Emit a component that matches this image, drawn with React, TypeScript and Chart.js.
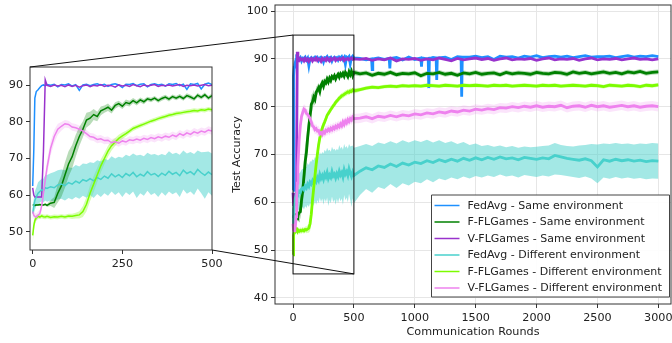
import { useEffect, useRef } from 'react';
import { Chart, registerables } from 'chart.js';
Chart.register(...registerables);

const ROUNDS = [0, 3, 6, 10, 15, 20, 25, 30, 35, 40,
  50, 60, 70, 80, 90, 100, 110, 120, 130, 140,
  150, 160, 170, 180, 190, 200, 210, 220, 230, 240,
  250, 260, 270, 280, 290, 300, 310, 320, 330, 340,
  350, 360, 370, 380, 390, 400, 410, 420, 430, 440,
  450, 460, 470, 480, 490, 500,
  550, 600, 650, 700, 750, 800, 850, 900, 950, 1000,
  1050, 1100, 1150, 1200, 1250, 1300, 1350, 1400, 1450, 1500,
  1550, 1600, 1650, 1700, 1750, 1800, 1850, 1900, 1950, 2000,
  2050, 2100, 2150, 2200, 2250, 2300, 2350, 2400, 2450, 2500,
  2550, 2600, 2650, 2700, 2750, 2800, 2850, 2900, 2950, 3000];

// FedAvg (same environment) has its own rounds so that its thin drops are kept narrow
const FEDAVG_SAME_ROUNDS = [0, 3, 6, 10, 15, 20, 25, 30, 35, 40,
  50, 60, 70, 80, 90, 100, 110, 120, 130, 140,
  150, 160, 170, 180, 190, 200, 210, 220, 230, 240,
  250, 260, 270, 280, 290, 300, 310, 320, 330, 340,
  350, 360, 370, 380, 390, 400, 410, 420, 430, 440,
  450, 460, 470, 480, 490, 500,
  550, 600, 645, 650, 655, 700, 750, 790, 795, 800,
  850, 900, 950, 1000, 1050, 1055, 1060, 1100, 1110, 1115,
  1120, 1150, 1175, 1180, 1185, 1250, 1300, 1350, 1380, 1385,
  1390, 1450, 1500,
  1550, 1600, 1650, 1700, 1750, 1800, 1850, 1900, 1950, 2000,
  2050, 2100, 2150, 2200, 2250, 2300, 2350, 2400, 2450, 2500,
  2550, 2600, 2650, 2700, 2750, 2800, 2850, 2900, 2950, 3000];

const FEDAVG_SAME = [62.5, 72.0, 86.5, 88.3, 88.8, 89.4, 89.9, 90.1, 89.9, 90.2,
  90.0, 90.3, 89.6, 90.2, 90.1, 90.4, 89.8, 90.2, 88.6, 90.1,
  90.3, 89.9, 90.2, 90.4, 90.0, 90.3, 89.7, 90.2, 90.4, 90.1,
  89.4, 90.3, 90.2, 90.5, 89.9, 90.3, 90.4, 89.6, 90.2, 90.4,
  90.1, 90.3, 89.8, 90.4, 90.2, 90.5, 89.9, 90.3, 88.9, 90.4,
  90.2, 90.5, 89.0, 90.3, 90.6, 90.2,
  90.1, 89.8, 90.0, 87.8, 90.0, 90.2, 89.9, 90.1, 88.0, 90.1,
  90.3, 89.8, 90.4, 89.9, 90.2, 88.4, 90.2, 90.0, 90.1, 83.9,
  90.1, 90.3, 90.2, 85.6, 90.2, 90.4, 89.9, 90.5, 90.4, 82.1,
  90.4, 90.4, 90.6,
  90.3, 90.5, 89.9, 90.6, 90.4, 90.5, 90.2, 90.6, 90.4, 90.7,
  90.3, 90.5, 90.6, 90.4, 90.6, 90.3, 90.5, 90.7, 90.4, 90.5,
  90.5, 90.6, 90.3, 90.5, 90.7, 90.4, 90.6, 90.5, 90.7, 90.5];

const FFLGAMES_SAME = [57.3, 57.3, 57.2, 57.3, 57.3, 57.4, 57.3, 57.3, 57.5, 57.2,
  57.8, 58.0, 60.5, 62.5, 65.5, 68.5, 70.5, 73.5, 76.0, 78.0,
  80.5, 81.0, 82.0, 81.5, 83.0, 83.5, 84.0, 83.2, 84.5, 85.0,
  84.3, 85.3, 85.0, 85.8, 85.2, 86.0, 85.5, 86.3, 86.0, 86.5,
  85.8, 86.4, 86.8, 86.2, 86.9, 86.5, 87.0, 86.4, 87.2, 86.8,
  86.3, 87.3, 86.7, 87.4, 86.5, 87.2,
  86.9, 87.1, 86.6, 87.0, 86.8, 87.2, 86.7, 87.0, 86.9, 87.1,
  86.5, 87.0, 86.9, 87.2, 86.8, 87.0, 86.6, 87.1, 86.9, 87.2,
  86.8, 87.0, 87.1, 86.7, 87.2, 86.9, 87.1, 87.0, 86.8, 87.2,
  87.0, 86.9, 87.2, 87.1, 86.8, 87.3, 87.0, 87.2, 86.9, 87.1,
  87.3, 87.0, 87.2, 86.9, 87.3, 87.1, 87.4, 87.0, 87.2, 87.3];

const VFLGAMES_SAME = [62.0, 60.0, 59.5, 59.5, 59.5, 59.5, 59.5, 72.0, 91.5, 90.0,
  89.7, 90.1, 89.8, 90.0, 89.6, 90.1, 89.7, 90.0, 89.5, 89.9,
  90.1, 89.6, 90.0, 89.8, 90.2, 89.7, 90.0, 89.9, 89.5, 90.1,
  89.8, 90.0, 89.7, 90.2, 89.9, 89.6, 90.1, 89.8, 90.0, 90.2,
  89.7, 90.0, 89.9, 90.1, 89.8, 90.0, 90.2, 89.7, 90.0, 89.9,
  90.1, 89.8, 90.0, 90.2, 89.9, 90.0,
  89.9, 90.1, 89.7, 90.0, 89.8, 90.2, 89.6, 90.0, 89.9, 90.1,
  89.7, 90.0, 89.8, 90.2, 89.9, 89.6, 90.1, 89.8, 90.0, 90.2,
  89.9, 90.1, 89.7, 90.0, 90.2, 89.8, 90.0, 89.9, 90.1, 89.7,
  90.0, 90.2, 89.8, 90.0, 89.9, 90.1, 89.7, 90.0, 90.2, 89.8,
  90.0, 89.9, 90.1, 89.8, 90.0, 90.2, 89.9, 90.0, 89.8, 90.0];

const FEDAVG_DIFF = [55.0, 57.0, 58.5, 59.5, 60.5, 61.0, 61.5, 61.2, 62.0, 61.8,
  62.3, 62.0, 62.8, 63.0, 62.6, 63.4, 63.0, 63.8, 63.3, 64.2,
  63.8, 64.5, 63.9, 64.8, 64.3, 65.2, 64.6, 65.8, 65.0, 65.6,
  64.8, 65.9, 65.3, 66.2, 65.0, 65.7, 65.2, 66.4, 65.5, 65.9,
  65.1, 66.0, 65.4, 66.5, 65.7, 66.2, 65.3, 66.8, 65.9, 66.4,
  65.6, 67.0, 66.1, 65.4, 66.3, 65.6,
  66.5, 67.2, 66.8, 67.6, 67.3, 68.0, 67.5, 68.2, 67.8, 68.4,
  68.1, 68.7, 68.3, 68.9, 68.5, 69.0, 68.6, 69.2, 68.8, 69.3,
  68.9, 69.4, 69.0, 69.5, 69.1, 69.3, 68.9, 69.4, 69.2, 69.0,
  69.3, 69.1, 69.8, 69.5, 69.2, 69.0, 68.8, 69.1, 68.7, 67.4,
  68.9, 68.6, 69.0, 68.7, 68.9, 68.6, 68.8, 68.5, 68.7, 68.6];

const FEDAVG_DIFF_LOW = [53.5, 55.0, 56.0, 57.0, 57.5, 58.0, 58.3, 58.0, 58.5, 58.2,
  58.5, 58.2, 58.8, 59.0, 58.5, 59.2, 58.8, 59.5, 59.0, 59.8,
  59.3, 60.0, 59.2, 60.3, 59.5, 60.5, 59.8, 61.0, 60.0, 60.8,
  59.5, 60.8, 60.0, 61.0, 59.2, 60.5, 59.8, 61.2, 60.0, 60.6,
  59.5, 60.8, 59.8, 61.0, 60.2, 60.8, 59.5, 61.5, 60.4, 61.0,
  60.0, 61.8, 60.5, 59.0, 60.8, 59.8,
  61.5, 62.8, 62.0, 63.2, 62.8, 63.8, 63.0, 64.0, 63.5, 64.3,
  64.0, 64.8, 64.2, 65.0, 64.6, 65.2, 64.8, 65.4, 65.0, 65.5,
  65.2, 65.6, 65.3, 65.8, 65.4, 65.6, 65.2, 65.7, 65.5, 65.3,
  65.6, 65.4, 65.8, 65.7, 65.5, 65.3, 65.1, 65.4, 65.0, 64.0,
  65.2, 64.9, 65.3, 65.0, 65.2, 64.9, 65.1, 64.8, 65.0, 64.9];

const FEDAVG_DIFF_HIGH = [56.5, 59.0, 61.0, 62.0, 63.5, 64.0, 64.5, 64.5, 65.5, 65.5,
  66.0, 66.3, 66.8, 67.0, 66.8, 67.6, 67.4, 68.2, 67.8, 68.6,
  68.5, 69.0, 68.8, 69.5, 69.2, 70.0, 69.5, 70.6, 70.0, 70.5,
  70.2, 71.0, 70.6, 71.4, 70.8, 71.0, 70.6, 71.6, 71.0, 71.2,
  70.8, 71.2, 70.9, 72.0, 71.2, 71.6, 71.0, 72.2, 71.4, 71.8,
  71.2, 72.2, 71.7, 71.8, 71.9, 71.4,
  71.8, 72.2, 71.8, 72.5, 72.2, 72.8, 72.3, 73.0, 72.5, 73.0,
  72.6, 73.1, 72.5, 73.0, 72.4, 72.8, 72.2, 72.6, 72.0, 72.3,
  71.8, 72.0, 71.6, 71.9, 71.5, 71.8, 71.4, 71.7, 71.5, 71.6,
  71.8, 71.9, 72.4, 72.0, 71.8, 71.7, 71.9, 72.0, 72.2, 72.1,
  72.3, 72.2, 72.4, 72.2, 72.3, 72.1, 72.3, 72.2, 72.4, 72.3];

const FFLGAMES_DIFF = [49.0, 51.5, 53.0, 53.8, 54.2, 54.0, 54.3, 54.1, 54.0, 54.2,
  53.9, 54.1, 54.0, 54.2, 54.0, 54.3, 54.2, 54.4, 54.6, 55.5,
  57.5, 60.5, 63.0, 65.5, 68.0, 70.0, 72.0, 73.5, 74.5, 75.5,
  76.2, 76.8, 77.5, 78.2, 78.6, 79.0, 79.4, 79.8, 80.2, 80.5,
  80.9, 81.2, 81.5, 81.8, 82.0, 82.3, 82.4, 82.6, 82.8, 82.9,
  83.1, 83.0, 83.3, 83.2, 83.5, 83.3,
  83.6, 83.9, 84.1, 84.0, 84.2, 84.3, 84.2, 84.4, 84.3, 84.4,
  84.3, 84.5, 84.4, 84.3, 84.5, 84.4, 84.3, 84.5, 84.4, 84.5,
  84.4, 84.3, 84.5, 84.4, 84.5, 84.3, 84.4, 84.5, 84.4, 84.3,
  84.5, 84.4, 84.5, 84.3, 84.4, 84.5, 84.4, 84.3, 84.5, 84.4,
  84.2, 84.5, 84.4, 84.3, 84.5, 84.4, 84.2, 84.5, 84.4, 84.6];

const VFLGAMES_DIFF = [55.5, 54.5, 54.2, 54.0, 54.5, 55.0, 57.0, 60.5, 64.0, 67.5,
  72.8, 76.0, 78.0, 78.8, 79.5, 79.3, 78.6, 78.4, 78.0, 77.5,
  76.8, 76.0, 75.8, 75.2, 75.4, 74.9, 75.0, 74.3, 74.6, 74.2,
  74.8, 74.5, 75.1, 74.9, 75.3, 75.0, 75.5, 75.2, 75.7, 75.4,
  75.9, 75.6, 76.1, 75.8, 76.4, 76.0, 76.8, 76.3, 77.0, 76.6,
  77.3, 76.9, 77.5, 77.2, 77.8, 77.5,
  77.6, 77.9, 77.5, 78.0, 77.8, 78.2, 77.9, 78.3, 78.1, 78.5,
  78.3, 78.7, 78.5, 78.9, 78.7, 79.1, 78.9, 79.3, 79.1, 79.5,
  79.3, 79.6, 79.4, 79.8, 79.7, 80.0, 79.8, 80.1, 79.9, 80.2,
  79.9, 80.1, 80.0, 80.3, 79.8, 80.1, 80.2, 79.9, 80.3, 80.0,
  80.2, 79.9, 80.1, 80.3, 80.0, 80.2, 79.9, 80.1, 80.2, 80.0];

const FFLGAMES_SAME_SPREAD = [0.3, 0.3, 0.3, 0.3, 0.3, 0.3, 0.3, 0.3, 0.3, 0.4,
  0.8, 1.5, 2.5, 3.0, 3.5, 3.5, 3.2, 3.0, 2.6, 2.2,
  2.0, 1.8, 1.5, 1.3, 1.2, 1.0, 1.0, 0.9, 0.9, 0.8,
  0.8, 0.8, 0.8, 0.7, 0.7, 0.7, 0.7, 0.6, 0.6, 0.6,
  0.6, 0.6, 0.6, 0.6, 0.6, 0.6, 0.6, 0.6, 0.6, 0.6,
  0.6, 0.6, 0.6, 0.6, 0.6, 0.6,
  0.5, 0.5, 0.5, 0.5, 0.5, 0.5, 0.5, 0.5, 0.5, 0.5,
  0.5, 0.5, 0.5, 0.5, 0.5, 0.5, 0.5, 0.5, 0.5, 0.5,
  0.5, 0.5, 0.5, 0.5, 0.5, 0.5, 0.5, 0.5, 0.5, 0.5,
  0.5, 0.5, 0.5, 0.5, 0.5, 0.5, 0.5, 0.5, 0.5, 0.5,
  0.5, 0.5, 0.5, 0.5, 0.5, 0.5, 0.5, 0.5, 0.5, 0.5];

const FFLGAMES_DIFF_SPREAD = [2.5, 1.5, 1.0, 0.8, 0.6, 0.6, 0.6, 0.6, 0.6, 0.6,
  0.6, 0.6, 0.6, 0.6, 0.6, 0.6, 0.7, 0.8, 1.0, 1.5,
  2.0, 2.2, 2.2, 2.0, 1.8, 1.6, 1.5, 1.3, 1.1, 1.0,
  0.9, 0.8, 0.7, 0.7, 0.6, 0.6, 0.6, 0.6, 0.6, 0.6,
  0.6, 0.6, 0.6, 0.6, 0.6, 0.6, 0.6, 0.6, 0.6, 0.6,
  0.6, 0.6, 0.6, 0.6, 0.6, 0.6,
  0.4, 0.4, 0.4, 0.4, 0.4, 0.4, 0.4, 0.4, 0.4, 0.4,
  0.4, 0.4, 0.4, 0.4, 0.4, 0.4, 0.4, 0.4, 0.4, 0.4,
  0.4, 0.4, 0.4, 0.4, 0.4, 0.4, 0.4, 0.4, 0.4, 0.4,
  0.4, 0.4, 0.4, 0.4, 0.4, 0.4, 0.4, 0.4, 0.4, 0.4,
  0.4, 0.4, 0.4, 0.4, 0.4, 0.4, 0.4, 0.4, 0.4, 0.4];

const VFLGAMES_DIFF_SPREAD = [1.0, 1.0, 1.0, 1.0, 1.0, 1.0, 1.2, 1.5, 1.8, 2.0,
  2.0, 1.8, 1.5, 1.2, 1.0, 1.0, 1.0, 1.0, 1.0, 1.0,
  1.0, 1.0, 1.0, 1.0, 1.0, 1.0, 1.0, 1.0, 1.0, 1.0,
  1.0, 1.0, 1.0, 1.0, 1.0, 1.0, 1.0, 1.0, 1.0, 1.0,
  1.0, 1.0, 1.0, 1.0, 1.0, 1.0, 1.0, 1.0, 1.0, 1.0,
  1.0, 1.0, 1.0, 1.0, 1.0, 1.0,
  1.0, 1.0, 1.0, 1.0, 1.0, 1.0, 1.0, 1.0, 1.0, 1.0,
  1.0, 1.0, 1.0, 1.0, 1.0, 1.0, 1.0, 1.0, 1.0, 1.0,
  1.0, 1.0, 1.0, 1.0, 1.0, 1.0, 1.0, 1.0, 1.0, 1.0,
  1.0, 1.0, 1.0, 1.0, 1.0, 1.0, 1.0, 1.0, 1.0, 1.0,
  1.0, 1.0, 1.0, 1.0, 1.0, 1.0, 1.0, 1.0, 1.0, 1.0];

const SERIES_LABELS = [
  'FedAvg - Same environment',
  'F-FLGames - Same environment',
  'V-FLGames - Same environment',
  'FedAvg - Different environment',
  'F-FLGames - Different environment',
  'V-FLGames - Different environment',
];
const SERIES_VALUES = [FEDAVG_SAME, FFLGAMES_SAME, VFLGAMES_SAME, FEDAVG_DIFF, FFLGAMES_DIFF, VFLGAMES_DIFF];
const SERIES_ROUNDS = [FEDAVG_SAME_ROUNDS, ROUNDS, ROUNDS, ROUNDS, ROUNDS, ROUNDS];
const SERIES_COLORS = ['#1e90ff', '#008000', '#9932cc', '#48d1cc', '#7cfc00', '#ee82ee'];

const MAIN_X_TICKS = [0, 500, 1000, 1500, 2000, 2500, 3000];
const MAIN_Y_TICKS = [40, 50, 60, 70, 80, 90, 100];
const INSET_X_TICKS = [0, 250, 500];
const INSET_Y_TICKS = [50, 60, 70, 80, 90];

const FONT = 'DejaVu Sans';
const FONT_SIZE = 11.2;
const TEXT = '#222222';
const FRAME = '#333333';

function pts(xs: number[], ys: number[]) {
  return xs.map((x, i) => ({ x, y: ys[i] }));
}
function shifted(ys: number[], sp: number[], sign: number) {
  return ROUNDS.map((x, i) => ({ x, y: ys[i] + sign * sp[i] }));
}

function buildDatasets(lineWidth: number) {
  const ds: any[] = [];
  const band = (low: any[], high: any[], color: string) => {
    ds.push({ data: low, borderWidth: 0, pointRadius: 0, fill: false, order: 100, clip: 0 });
    ds.push({ data: high, borderWidth: 0, pointRadius: 0, fill: '-1', backgroundColor: color, order: 100, clip: 0 });
  };
  band(shifted(FFLGAMES_SAME, FFLGAMES_SAME_SPREAD, -1), shifted(FFLGAMES_SAME, FFLGAMES_SAME_SPREAD, 1), 'rgba(0,128,0,0.28)');
  band(pts(ROUNDS, FEDAVG_DIFF_LOW), pts(ROUNDS, FEDAVG_DIFF_HIGH), 'rgba(72,209,204,0.5)');
  band(shifted(FFLGAMES_DIFF, FFLGAMES_DIFF_SPREAD, -1), shifted(FFLGAMES_DIFF, FFLGAMES_DIFF_SPREAD, 1), 'rgba(124,252,0,0.3)');
  band(shifted(VFLGAMES_DIFF, VFLGAMES_DIFF_SPREAD, -1), shifted(VFLGAMES_DIFF, VFLGAMES_DIFF_SPREAD, 1), 'rgba(238,130,238,0.22)');
  SERIES_VALUES.forEach((vals, i) => {
    ds.push({
      label: SERIES_LABELS[i],
      data: pts(SERIES_ROUNDS[i], vals),
      borderColor: SERIES_COLORS[i],
      backgroundColor: SERIES_COLORS[i],
      borderWidth: lineWidth,
      pointRadius: 0,
      tension: 0,
      fill: false,
      order: 20 - i,
      clip: 0,
    });
  });
  return ds;
}

function axisCommon(ticksArr: number[], showGrid: boolean, size: number, isX: boolean, title?: string) {
  return {
    type: 'linear' as const,
    afterBuildTicks: (axis: any) => { axis.ticks = ticksArr.map((v) => ({ value: v })); },
    afterFit: (axis: any) => {
      if (isX) axis.height = size; else axis.width = size;
      axis.paddingTop = 0;
      axis.paddingBottom = 0;
      axis.paddingLeft = 0;
      axis.paddingRight = 0;
    },
    grid: {
      display: true,
      drawOnChartArea: showGrid,
      drawTicks: true,
      tickLength: 4,
      tickColor: FRAME,
      color: '#e6e6e6',
      lineWidth: 1,
    },
    border: { display: false },
    ticks: {
      padding: 3,
      color: TEXT,
      font: { family: FONT, size: FONT_SIZE },
      maxRotation: 0,
      autoSkip: false,
      callback: (v: any) => String(v),
    },
    title: title
      ? {
          display: true,
          text: title,
          color: TEXT,
          font: { family: FONT, size: FONT_SIZE },
          padding: isX ? { top: 0, bottom: 4.5 } : { top: 0.5, bottom: 0 },
        }
      : { display: false },
  };
}

const framePlugin = {
  id: 'frame',
  afterDatasetsDraw(chart: any) {
    const { ctx, chartArea: a } = chart;
    ctx.save();
    ctx.strokeStyle = FRAME;
    ctx.lineWidth = 1;
    ctx.strokeRect(a.left, a.top, a.right - a.left, a.bottom - a.top);
    ctx.restore();
  },
};

const zoomRectPlugin = {
  id: 'zoomRect',
  afterDatasetsDraw(chart: any) {
    const { ctx, scales } = chart;
    const x0 = scales.x.getPixelForValue(0);
    const x1 = scales.x.getPixelForValue(500);
    const y0 = scales.y.getPixelForValue(95);
    const y1 = scales.y.getPixelForValue(45);
    ctx.save();
    ctx.strokeStyle = '#111';
    ctx.lineWidth = 1;
    ctx.strokeRect(x0, y0, x1 - x0, y1 - y0);
    ctx.restore();
  },
};

const legendPlugin = {
  id: 'customLegend',
  afterDraw(chart: any) {
    const { ctx, chartArea: a } = chart;
    const w = 238;
    const h = 102;
    const right = a.right - 1.5;
    const bottom = a.bottom - 7;
    const left = right - w;
    const top = bottom - h;
    ctx.save();
    ctx.fillStyle = 'rgba(255,255,255,0.92)';
    ctx.strokeStyle = '#444';
    ctx.lineWidth = 1;
    ctx.beginPath();
    ctx.rect(left, top, w, h);
    ctx.fill();
    ctx.stroke();
    ctx.font = `11px "${FONT}"`;
    ctx.textBaseline = 'middle';
    ctx.textAlign = 'left';
    SERIES_LABELS.forEach((lab, i) => {
      const y = top + 10.5 + i * 16.5;
      ctx.strokeStyle = SERIES_COLORS[i];
      ctx.lineWidth = 1.5;
      ctx.beginPath();
      ctx.moveTo(left + 3, y);
      ctx.lineTo(left + 28, y);
      ctx.stroke();
      ctx.fillStyle = TEXT;
      ctx.fillText(lab, left + 36, y + 0.5);
    });
    ctx.restore();
  },
};

export default function App() {
  const mainRef = useRef<HTMLCanvasElement>(null);
  const insetRef = useRef<HTMLCanvasElement>(null);

  useEffect(() => {
    const main = new Chart(mainRef.current as HTMLCanvasElement, {
      type: 'line',
      data: { datasets: buildDatasets(2.8) },
      options: {
        animation: false,
        responsive: false,
        devicePixelRatio: 1,
        events: [],
        layout: { padding: { left: 230, top: 5, right: 1, bottom: 0 } },
        plugins: { legend: { display: false }, tooltip: { enabled: false } },
        scales: {
          x: { ...axisCommon(MAIN_X_TICKS, true, 39, true, 'Communication Rounds'), min: -148, max: 3104 },
          y: { ...axisCommon(MAIN_Y_TICKS, true, 45, false, 'Test Accuracy'), min: 38.7, max: 101.3 },
        },
      } as any,
      plugins: [framePlugin, zoomRectPlugin, legendPlugin],
    });

    const connectorPlugin = {
      id: 'connector',
      afterDraw(chart: any) {
        const { ctx, chartArea: a } = chart;
        const mx = main.scales.x;
        const my = main.scales.y;
        ctx.save();
        ctx.strokeStyle = '#111';
        ctx.lineWidth = 1;
        ctx.beginPath();
        ctx.moveTo(a.left, a.top);
        ctx.lineTo(mx.getPixelForValue(0), my.getPixelForValue(95));
        ctx.moveTo(a.right, a.bottom);
        ctx.lineTo(mx.getPixelForValue(500), my.getPixelForValue(45));
        ctx.stroke();
        ctx.restore();
      },
    };

    const inset = new Chart(insetRef.current as HTMLCanvasElement, {
      type: 'line',
      data: { datasets: buildDatasets(1.5) },
      options: {
        animation: false,
        responsive: false,
        devicePixelRatio: 1,
        events: [],
        layout: { padding: { left: 0, top: 67, right: 460, bottom: 0 } },
        plugins: { legend: { display: false }, tooltip: { enabled: false } },
        scales: {
          x: { ...axisCommon(INSET_X_TICKS, false, 93, true), min: -7.5, max: 500 },
          y: { ...axisCommon(INSET_Y_TICKS, false, 30, false), min: 45, max: 95 },
        },
      } as any,
      plugins: [framePlugin, connectorPlugin],
    });

    return () => {
      inset.destroy();
      main.destroy();
    };
  }, []);

  return (
    <div style={{ position: 'fixed', left: 0, top: 0, width: 672, height: 343, background: '#ffffff' }}>
      <canvas ref={mainRef} width={672} height={343} style={{ position: 'absolute', left: 0, top: 0 }} />
      <canvas ref={insetRef} width={672} height={343} style={{ position: 'absolute', left: 0, top: 0 }} />
    </div>
  );
}
